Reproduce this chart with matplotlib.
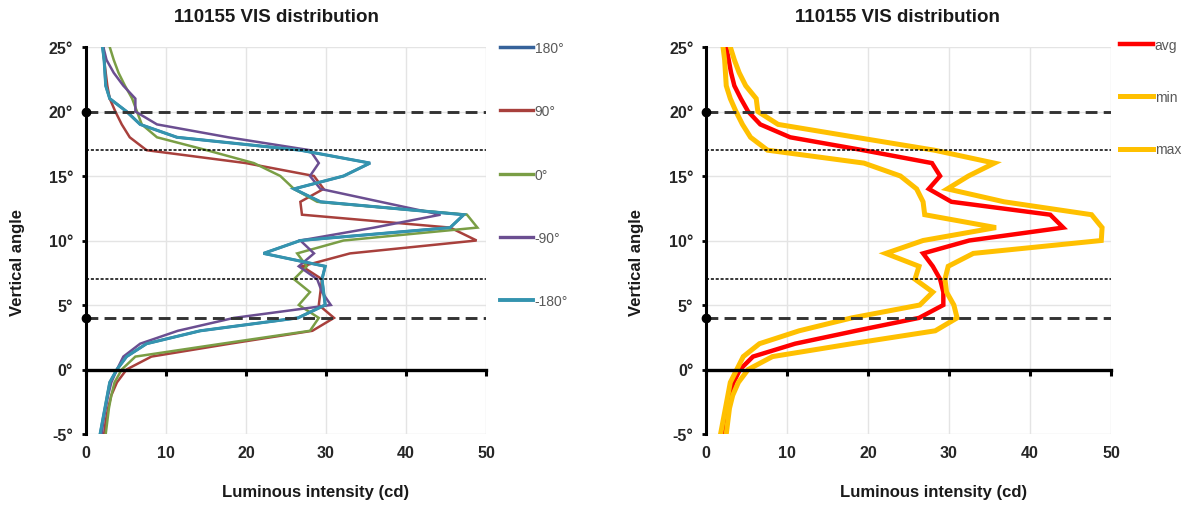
import numpy as np
import matplotlib.pyplot as plt
from matplotlib.lines import Line2D

plt.rcParams['font.family'] = ['Liberation Sans', 'DejaVu Sans']
plt.rcParams['lines.scale_dashes'] = False

# vertical angle in degrees, one sample per degree
angles = list(range(-5, 26))

# luminous intensity (cd) per horizontal angle, -5 deg .. 25 deg
cd_180 = [1.8, 2.1, 2.4, 2.7, 3.0, 3.9, 5.1, 7.6, 14.3, 26.5, 29.9, 29.7, 29.5, 29.9, 22.2, 26.8,
          45.5, 47.2, 29.3, 26.0, 32.2, 35.5, 26.8, 11.4, 6.8, 5.1, 3.0, 2.5, 2.4, 2.3, 2.1]
cd_90 = [2.3, 2.5, 2.8, 3.2, 3.9, 5.1, 8.2, 18.0, 28.3, 31.0, 29.1, 29.3, 29.5, 27.0, 33.0, 48.8,
         45.5, 27.0, 26.8, 29.7, 28.5, 20.0, 7.6, 5.5, 4.5, 3.7, 3.0, 2.7, 2.5, 2.3, 2.2]
cd_0 = [2.5, 2.7, 2.9, 3.2, 3.6, 4.5, 6.2, 17.0, 28.0, 29.1, 26.6, 28.0, 26.0, 27.6, 26.4, 32.2,
        48.9, 47.6, 28.9, 26.0, 24.3, 21.0, 15.1, 8.9, 7.0, 6.4, 5.8, 4.9, 4.1, 3.5, 3.0]
cd_m90 = [2.0, 2.2, 2.5, 2.8, 3.2, 3.9, 4.7, 6.8, 11.5, 18.5, 30.6, 29.5, 28.9, 26.6, 28.5, 26.8,
          36.0, 44.3, 36.8, 29.3, 28.0, 29.1, 28.0, 17.8, 8.9, 6.2, 6.2, 4.7, 3.5, 2.6, 2.2]
cd_m180 = [1.8, 2.1, 2.4, 2.7, 3.0, 3.9, 5.1, 7.6, 14.3, 26.5, 29.9, 29.7, 29.5, 29.9, 22.2, 26.8,
           45.5, 47.2, 29.3, 26.0, 32.2, 35.5, 26.8, 11.4, 6.8, 5.1, 3.0, 2.5, 2.4, 2.3, 2.1]

cd_avg = [2.2, 2.4, 2.6, 2.9, 3.4, 4.2, 5.8, 11.0, 18.5, 26.3, 29.3, 29.3, 28.9, 28.0, 26.8, 32.5,
          44.1, 42.5, 30.3, 27.5, 28.9, 27.9, 19.4, 10.4, 6.7, 5.2, 4.3, 3.5, 3.1, 2.8, 2.5]
cd_min = [1.8, 2.1, 2.4, 2.7, 3.0, 3.8, 4.6, 6.6, 11.5, 18.0, 26.4, 28.0, 25.8, 26.3, 22.2, 26.8,
          35.8, 27.0, 26.8, 26.0, 24.0, 19.5, 7.6, 5.5, 4.5, 3.7, 3.0, 2.5, 2.4, 2.3, 2.1]
cd_max = [2.5, 2.7, 2.9, 3.3, 4.0, 5.2, 8.2, 18.0, 28.3, 31.0, 30.6, 29.7, 29.5, 29.9, 33.0, 48.8,
          48.9, 47.6, 36.8, 29.8, 32.4, 35.6, 28.2, 18.5, 8.9, 6.4, 6.2, 4.9, 4.1, 3.5, 3.0]

left_series = [("180°", cd_180, "#36629A", 1.9),
               ("90°", cd_90, "#A8403C", 1.8),
               ("0°", cd_0, "#7A9E45", 1.8),
               ("-90°", cd_m90, "#6B4E91", 1.8),
               ("-180°", cd_m180, "#3494AF", 2.2)]
right_series = [("avg", cd_avg, "#FF0000", 3.2),
                ("min", cd_min, "#FFC000", 3.6),
                ("max", cd_max, "#FFC000", 3.6)]

x_ticks = [0, 10, 20, 30, 40, 50]
y_ticks = [-5, 0, 5, 10, 15, 20, 25]
dashed_at = [20, 4]
dotted_at = [17, 7]

W, H = 1188, 506
fig = plt.figure(figsize=(W / 100, H / 100), dpi=100)


def setup_axes(ax):
    ax.set_xlim(0, 50)
    ax.set_ylim(-5, 25)
    ax.set_xticks(x_ticks)
    ax.set_yticks(y_ticks)
    ax.set_yticklabels([f"{t}°" for t in y_ticks])
    ax.grid(True, color="#e4e4e4", lw=1.0, zorder=0)
    ax.set_axisbelow(True)
    for s in ("top", "right"):
        ax.spines[s].set_visible(False)
    ax.spines["left"].set_linewidth(2.2)
    ax.spines["bottom"].set_position(("data", 0))
    ax.spines["bottom"].set_linewidth(2.4)
    ax.spines["bottom"].set_zorder(4)
    ax.spines["left"].set_zorder(4)
    ax.tick_params(axis="x", direction="out", length=4, width=2.2, pad=50,
                   labelsize=11.5, colors="black", labelcolor="#262626")
    ax.tick_params(axis="y", direction="out", length=3, width=2, pad=6,
                   labelsize=11.5, labelcolor="#262626")
    for lab in ax.get_xticklabels() + ax.get_yticklabels():
        lab.set_fontweight("bold")
    # reference lines
    for y in dashed_at:
        ax.plot([0, 50], [y, y], color="#333333", lw=2.1, dashes=(8.5, 4.5), zorder=3)
        ax.plot([0], [y], "o", color="black", ms=6, zorder=5, clip_on=False)
    for y in dotted_at:
        ax.plot([0, 50], [y, y], color="black", lw=1.1, dashes=(2.2, 1.3), zorder=3)


def draw_panel(rect, series, title_x, xlabel_x, ylabel_x, leg_anchor, spacing):
    ax = fig.add_axes(rect)
    handles = []
    for name, vals, col, lw in series:
        ax.plot(vals, angles, color=col, lw=lw, zorder=2, solid_joinstyle="miter")
        handles.append(Line2D([], [], color=col, lw=lw + 0.6 if lw < 3 else lw))
    setup_axes(ax)
    fig.text(title_x, 1 - 18 / H, "110155 VIS distribution", ha="center", va="center",
             fontsize=13.5, fontweight="bold", color="#1a1a1a")
    fig.text(xlabel_x, 1 - 493 / H, "Luminous intensity (cd)", ha="center", va="center",
             fontsize=12, fontweight="bold", color="#1a1a1a")
    fig.text(ylabel_x, 1 - 262 / H, "Vertical angle", ha="center", va="center",
             rotation=90, fontsize=12, fontweight="bold", color="#1a1a1a")
    leg = ax.legend(handles, [s[0] for s in series], loc="upper left",
                    bbox_to_anchor=leg_anchor, bbox_transform=fig.transFigure,
                    frameon=False, fontsize=10, handlelength=2.4, handletextpad=0.1,
                    labelspacing=spacing, borderpad=0, borderaxespad=0)
    for t in leg.get_texts():
        t.set_color("#595959")
    return ax


draw_panel([85.7 / W, 1 - 435 / H, 400.5 / W, 387 / H], left_series,
           276 / W, 316 / W, 18 / W, (500 / W, 1 - 42 / H), 3.55)
draw_panel([706 / W, 1 - 435 / H, 405 / W, 387 / H], right_series,
           897 / W, 934 / W, 636 / W, (1120 / W, 1 - 39 / H), 2.75)

fig.savefig("out.png", dpi=100)
